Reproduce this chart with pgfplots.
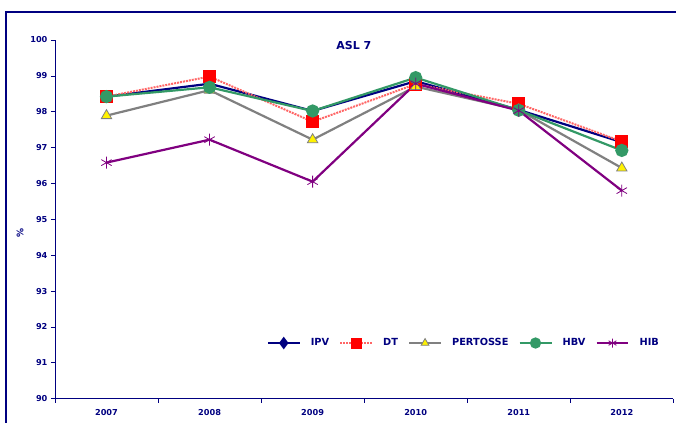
\documentclass[border=0pt]{standalone}
\usepackage{pgfplots}
\pgfplotsset{compat=1.18}
\usepackage{fontspec}
\setmainfont{DejaVu Sans}
\definecolor{navy}{HTML}{000080}
\definecolor{dtred}{HTML}{FF0000}
\definecolor{pgray}{HTML}{808080}
\definecolor{hgreen}{HTML}{339966}
\definecolor{hpurple}{HTML}{800080}
\begin{document}
\begin{tikzpicture}
\path (0pt,0pt) rectangle (677pt,423pt);
\draw[navy, line width=1.3pt] (6pt,0pt) -- (6pt,411pt) -- (677pt,411pt);
\begin{axis}[
  at={(55pt,24pt)}, anchor=south west,
  scale only axis, width=619pt, height=359pt,
  xmin=-0.5, xmax=5.5, ymin=90, ymax=100,
  axis lines=left, axis line style={navy, line width=0.8pt, -},
  xtick={0,...,5}, xticklabels={2007,2008,2009,2010,2011,2012},
  minor xtick={-0.5,0.5,...,5.5},
  major x tick style={draw=none},
  minor x tick style={navy, line width=0.6pt},
  minor tick length=4pt,
  ytick={90,...,100},
  y tick style={navy, line width=0.6pt},
  major tick length=4pt,
  tick align=outside,
  ticklabel style={font=\bfseries\fontsize{8.2}{9}\selectfont, text=navy},
  /pgf/number format/assume math mode=true,
  xticklabel style={yshift=-3pt},
  ylabel={\%}, ylabel style={font=\bfseries\fontsize{9}{10}\selectfont, text=navy, at={(ticklabel cs:0.5)}, xshift=-14pt},
  clip=false,
  legend style={draw=none, fill=none, at={(rel axis cs:0.985,0.155)}, anchor=east,
    font=\bfseries\fontsize{9.8}{11}\selectfont, text=navy, column sep=8pt,
    nodes={inner xsep=2pt}},
  legend columns=5,
  legend image code/.code={\draw[#1] (0pt,0pt) -- (32pt,0pt); \draw[#1, mark size=4.5pt] plot coordinates {(16pt,0pt)};},
]
\addplot[navy, line width=2.2pt, mark=diamond*, mark size=2.5pt, mark options={solid, fill=navy}]
  coordinates {(0,98.42) (1,98.78) (2,98.02) (3,98.85) (4,98.05) (5,97.15)};
\addlegendentry{IPV}
\addplot[dtred!60, line width=2pt, densely dotted, mark=square*, mark size=5.5pt, mark options={solid, fill=dtred, draw=dtred}]
  coordinates {(0,98.42) (1,98.98) (2,97.72) (3,98.77) (4,98.22) (5,97.17)};
\addlegendentry{DT}
\addplot[pgray, line width=2.2pt, mark=triangle*, mark size=6pt, mark options={solid, fill=yellow, draw=pgray, line width=0.8pt}]
  coordinates {(0,97.89) (1,98.6) (2,97.22) (3,98.7) (4,98.05) (5,96.43)};
\addlegendentry{PERTOSSE}
\addplot[hgreen, line width=2.2pt, mark=*, mark size=5.5pt, mark options={solid, fill=hgreen, draw=hgreen}]
  coordinates {(0,98.42) (1,98.68) (2,98.02) (3,98.95) (4,98.04) (5,96.92)};
\addlegendentry{HBV}
\addplot[hpurple, line width=2.2pt, mark=asterisk, mark size=6pt, mark options={solid, line width=0.8pt}]
  coordinates {(0,96.58) (1,97.22) (2,96.05) (3,98.78) (4,98.03) (5,95.8)};
\addlegendentry{HIB}
\node[font=\bfseries\fontsize{11}{13}\selectfont, text=navy] at (axis cs:2.4,99.85) {ASL 7};
\end{axis}
\end{tikzpicture}
\end{document}
